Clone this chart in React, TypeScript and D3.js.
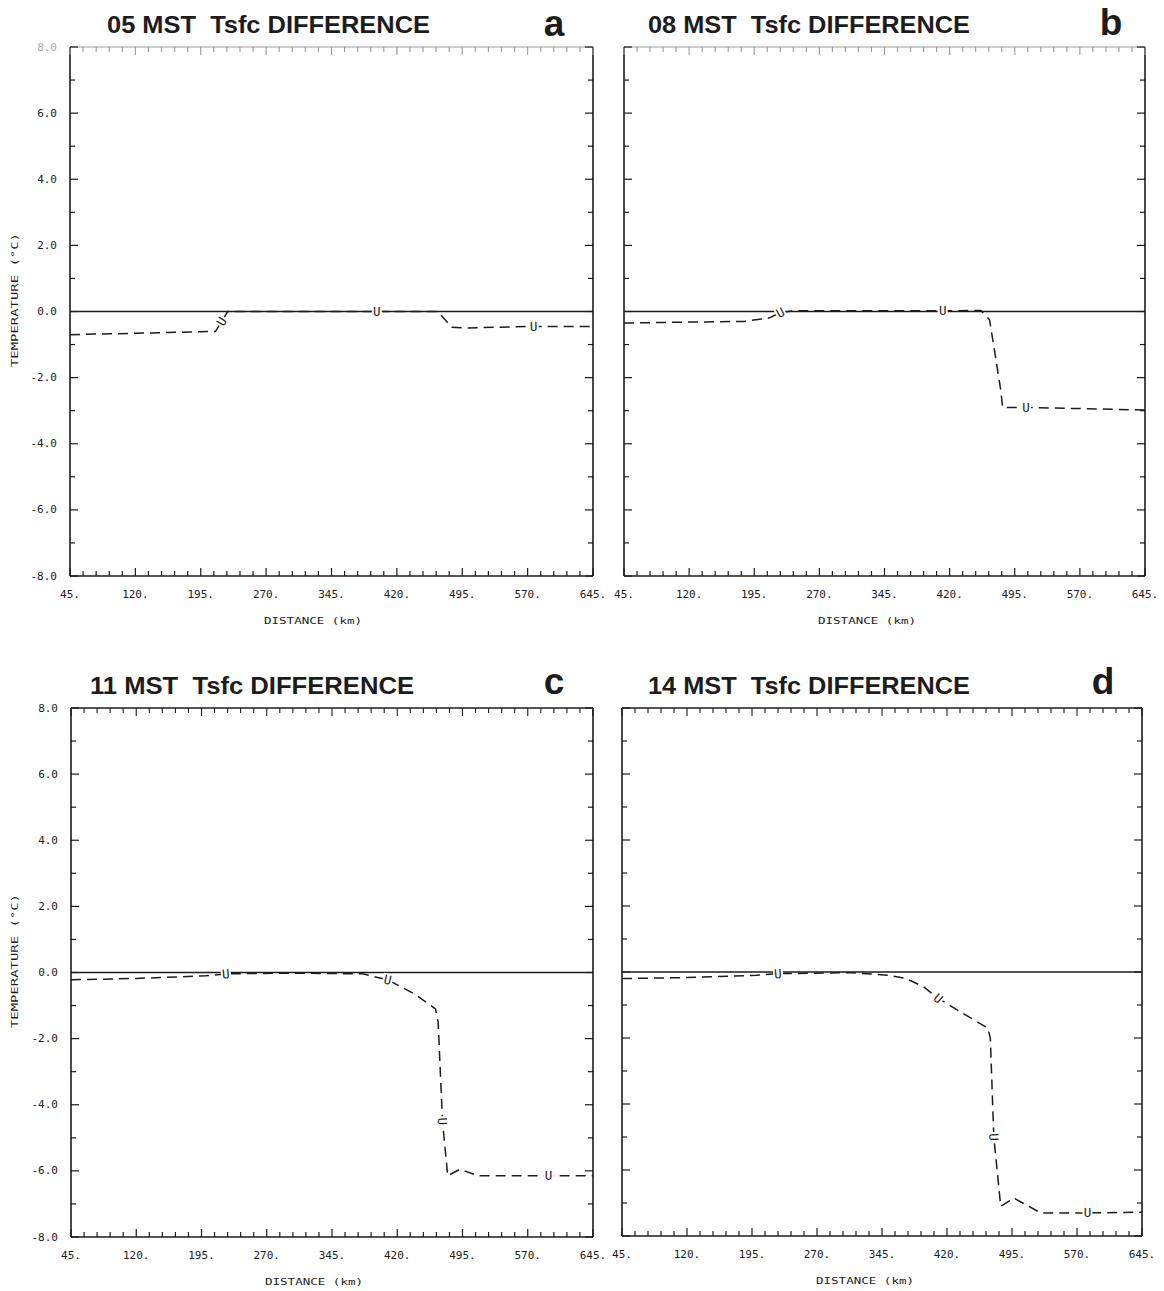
import React from 'react';
import * as d3 from 'd3';

// ---------- data ----------
const xTickValues = [45, 120, 195, 270, 345, 420, 495, 570, 645];
const yTickValues = [8, 6, 4, 2, 0, -2, -4, -6, -8];
const xDomain: [number, number] = [45, 645];
const yDomain: [number, number] = [-8, 8];

const panelTitles = [
  '05 MST  Tsfc DIFFERENCE',
  '08 MST  Tsfc DIFFERENCE',
  '11 MST  Tsfc DIFFERENCE',
  '14 MST  Tsfc DIFFERENCE',
];
const panelLetters = ['a', 'b', 'c', 'd'];

// reference (zero difference) line
const zeroLine: [number, number][] = [[45, 0], [645, 0]];

// dashed difference curves [distance km, temperature difference degC]
const diff05: [number, number][] = [
  [45, -0.7], [120, -0.66], [212, -0.6], [219, -0.3], [226, 0], [467, 0],
  [483, -0.48], [500, -0.5], [577, -0.45], [645, -0.45],
];
const diff08: [number, number][] = [
  [45, -0.35], [120, -0.32], [183, -0.3], [212, -0.2], [225, -0.03], [240, 0.02],
  [412, 0.02], [456, 0.03], [466, -0.25], [473, -1.4], [479, -2.4], [481, -2.9],
  [508, -2.9], [645, -2.98],
];
const diff11: [number, number][] = [
  [45, -0.22], [120, -0.18], [200, -0.1], [223, -0.04], [300, -0.02], [380, -0.04],
  [409, -0.22], [440, -0.65], [464, -1.1], [467, -1.5], [472, -4.5], [478, -6.15],
  [492, -5.95], [513, -6.15], [645, -6.15],
];
const diff14: [number, number][] = [
  [45, -0.2], [120, -0.17], [200, -0.1], [225, -0.05], [310, -0.02], [352, -0.1],
  [373, -0.2], [393, -0.45], [410, -0.8], [435, -1.2], [467, -1.7], [470, -2.0],
  [474, -5.0], [482, -7.1], [497, -6.85], [528, -7.3], [582, -7.3], [645, -7.28],
];

// "U" labels along the dashed curves
const marks05: [number, number][] = [[219, -0.3], [397, 0], [577, -0.45]];
const marks08: [number, number][] = [[225, -0.03], [412, 0.02], [508, -2.9]];
const marks11: [number, number][] = [[223, -0.04], [409, -0.22], [472, -4.5], [594, -6.15]];
const marks14: [number, number][] = [[225, -0.05], [410, -0.8], [474, -5.0], [582, -7.3]];

const seriesList = [diff05, diff08, diff11, diff14];
const marksList = [marks05, marks08, marks11, marks14];

// ---------- layout ----------
const layout = [
  { left: 70, right: 593, top: 47, bottom: 576, titleX: 107, titleW: 323, titleY: 33, letterX: 554, letterY: 36, yLabels: true, fadedTop: true },
  { left: 624, right: 1145, top: 47, bottom: 576, titleX: 648, titleW: 322, titleY: 33, letterX: 1111, letterY: 35, yLabels: false, fadedTop: true },
  { left: 71, right: 593, top: 708, bottom: 1237, titleX: 90, titleW: 324, titleY: 694, letterX: 554, letterY: 694, yLabels: true, fadedTop: false },
  { left: 622, right: 1142, top: 708, bottom: 1236, titleX: 648, titleW: 322, titleY: 694, letterX: 1103, letterY: 694, yLabels: false, fadedTop: false },
];

const INK = '#1c1c1c';
const MONO = '"DejaVu Sans Mono", "Liberation Mono", monospace';
const SANS = '"Liberation Sans", Arial, Helvetica, sans-serif';

function Panel({ idx }: { idx: number }) {
  const L = layout[idx];
  const x = d3.scaleLinear().domain(xDomain).range([L.left, L.right]);
  const y = d3.scaleLinear().domain(yDomain).range([L.bottom, L.top]);
  const line = d3.line<[number, number]>().x(d => x(d[0])).y(d => y(d[1]));
  const data = seriesList[idx];
  const marks = marksList[idx];

  const minorX = d3.range(xDomain[0], xDomain[1] + 0.1, 15);
  const minorY = d3.range(yDomain[0], yDomain[1] + 0.1, 1);

  const angleAt = (km: number) => {
    for (let i = 0; i < data.length - 1; i++) {
      if (km >= data[i][0] && km <= data[i + 1][0]) {
        const dx = x(data[i + 1][0]) - x(data[i][0]);
        const dy = y(data[i + 1][1]) - y(data[i][1]);
        return (Math.atan2(dy, dx) * 180) / Math.PI;
      }
    }
    return 0;
  };

  const topColor = L.fadedTop ? '#9a9a9a' : INK;

  return (
    <g>
      {/* title */}
      <text x={L.titleX} y={L.titleY} fontFamily={SANS} fontWeight="bold" fontSize={24}
        fill={INK} textLength={L.titleW} lengthAdjust="spacingAndGlyphs"
        style={{ whiteSpace: 'pre' }}>{panelTitles[idx]}</text>
      <text x={L.letterX} y={L.letterY} fontFamily={SANS} fontWeight="bold" fontSize={37}
        fill={INK} textAnchor="middle">{panelLetters[idx]}</text>

      {/* frame */}
      <line x1={L.left} x2={L.right} y1={L.top} y2={L.top} stroke={topColor} strokeWidth={L.fadedTop ? 1 : 1.5} />
      <line x1={L.left} x2={L.right} y1={L.bottom} y2={L.bottom} stroke={INK} strokeWidth={1.6} />
      <line x1={L.left} x2={L.left} y1={L.top} y2={L.bottom} stroke={INK} strokeWidth={1.6} />
      <line x1={L.right} x2={L.right} y1={L.top} y2={L.bottom} stroke={INK} strokeWidth={1.6} />

      {/* x ticks */}
      {minorX.map(v => {
        const major = xTickValues.includes(v);
        const len = major ? 8 : 5;
        return (
          <g key={'xt' + v}>
            <line x1={x(v)} x2={x(v)} y1={L.bottom} y2={L.bottom - len} stroke={INK} strokeWidth={1.2} />
            <line x1={x(v)} x2={x(v)} y1={L.top} y2={L.top + len} stroke={topColor} strokeWidth={1.1} />
          </g>
        );
      })}
      {/* y ticks */}
      {minorY.map(v => {
        const major = yTickValues.includes(v);
        const len = major ? 8 : 5;
        return (
          <g key={'yt' + v}>
            <line x1={L.left} x2={L.left + len} y1={y(v)} y2={y(v)} stroke={INK} strokeWidth={1.2} />
            <line x1={L.right} x2={L.right - len} y1={y(v)} y2={y(v)} stroke={INK} strokeWidth={1.2} />
          </g>
        );
      })}

      {/* x tick labels */}
      {xTickValues.map(v => (
        <text key={'xl' + v} x={x(v)} y={L.bottom + 18} fontFamily={MONO} fontSize={11}
          fill={INK} textAnchor="middle" dominantBaseline="central">{v + '.'}</text>
      ))}
      {/* y tick labels */}
      {L.yLabels && yTickValues.map(v => (
        <text key={'yl' + v} x={L.left - 13} y={y(v)} fontFamily={MONO} fontSize={11}
          fill={v === 8 && L.fadedTop ? '#aaa' : INK} textAnchor="end" dominantBaseline="central">{v.toFixed(1)}</text>
      ))}

      {/* axis titles */}
      <text x={L.left + 243} y={L.bottom + 44} fontFamily={MONO} fontSize={9.5} fill={INK}
        textAnchor="middle" dominantBaseline="central" textLength={98} lengthAdjust="spacingAndGlyphs">DISTANCE (km)</text>
      {L.yLabels && (
        <text transform={`translate(14,${L.top + 253}) rotate(-90)`} fontFamily={MONO} fontSize={9.5} fill={INK}
          textAnchor="middle" dominantBaseline="central" textLength={134} lengthAdjust="spacingAndGlyphs">TEMPERATURE (°C)</text>
      )}

      {/* zero line */}
      <path d={line(zeroLine) || ''} fill="none" stroke={INK} strokeWidth={1.6} />
      {/* difference curve */}
      <path d={line(data) || ''} fill="none" stroke={INK} strokeWidth={1.5} strokeDasharray="10,6" />

      {/* U labels */}
      {marks.map((m, i) => (
        <g key={'m' + i} transform={`translate(${x(m[0])},${y(m[1])}) rotate(${angleAt(m[0])})`}>
          <rect x={-5} y={-6} width={10} height={12} fill="white" />
          <text fontFamily={MONO} fontSize={12.5} fill={INK} textAnchor="middle" dominantBaseline="central">U</text>
        </g>
      ))}
    </g>
  );
}

export default function App() {
  return (
    <svg width={1164} height={1291} style={{ position: 'absolute', left: 0, top: 0, background: 'white', display: 'block' }}>
      <rect x={0} y={0} width={1164} height={1291} fill="white" />
      {[0, 1, 2, 3].map(i => <Panel key={i} idx={i} />)}
    </svg>
  );
}
